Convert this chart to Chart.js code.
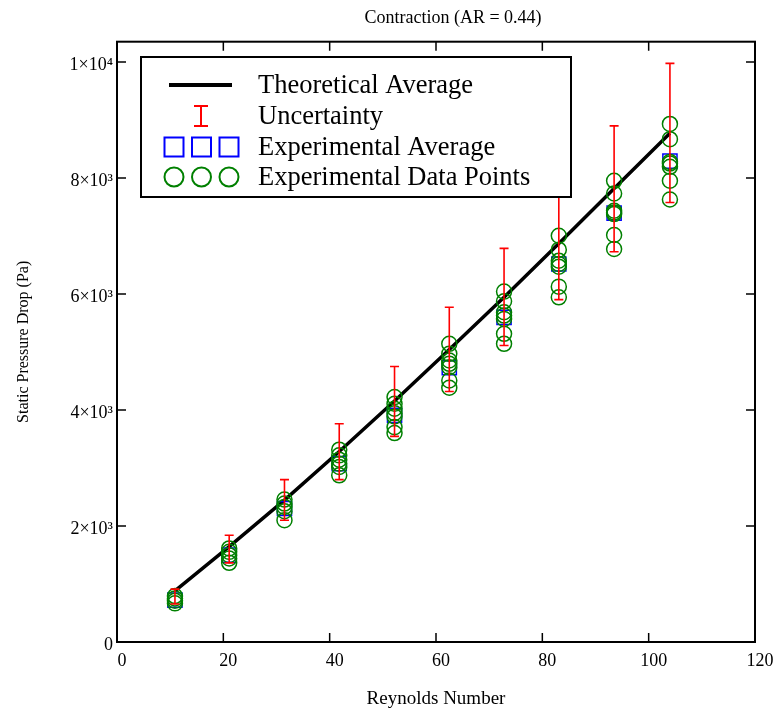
<!DOCTYPE html>
<html>
<head>
<meta charset="utf-8">
<script src="https://cdn.jsdelivr.net/npm/chart.js@4.4.0/dist/chart.umd.min.js"></script>
<style>
  html, body { margin: 0; padding: 0; background: #fff; }
</style>
</head>
<body>
<canvas id="chart" width="777" height="717"></canvas>
<script>
// Reynolds number of each test case
const reynolds = [10.9, 21.1, 31.5, 41.8, 52.2, 62.5, 72.8, 83.1, 93.5, 104.0];
// static pressure drop (Pa)
const theoretical = [880, 1644, 2447, 3284, 4154, 5043, 5943, 6869, 7820, 8772];
const uncertaintyLow = [654, 1365, 2100, 2800, 3545, 4320, 5111, 5903, 6729, 7578];
const uncertaintyHigh = [912, 1841, 2800, 3764, 4750, 5771, 6786, 7835, 8898, 9977];
const experimentalAverage = [723, 1497, 2301, 3075, 3907, 4728, 5598, 6517, 7395, 8290];
const experimentalPoints = [
    [792, 752, 711, 666],
    [1613, 1554, 1497, 1440, 1365],
    [2456, 2387, 2329, 2255, 2100],
    [3316, 3218, 3144, 3075, 3017, 2874],
    [4222, 4108, 4022, 3946, 3889, 3705, 3602],
    [5141, 4968, 4853, 4796, 4738, 4509, 4383],
    [6041, 5874, 5685, 5628, 5571, 5313, 5141],
    [7004, 6764, 6574, 6517, 6471, 6127, 5943],
    [7951, 7733, 7435, 7406, 7378, 7017, 6776],
    [8932, 8669, 8278, 8249, 8193, 7952, 7629]
];
const xTicks = [0, 20, 40, 60, 80, 100, 120];
const yTicks = [0, 2000, 4000, 6000, 8000, 10000];
const yTickLabels = ["0", "2×10³", "4×10³", "6×10³", "8×10³", "1×10⁴"];
const legendLabels = ["Theoretical Average", "Uncertainty", "Experimental Average", "Experimental Data Points"];
const chartTitle = "Contraction (AR = 0.44)";

const serif = "'Liberation Serif', 'Times New Roman', serif";
const RED = "#ff0000", BLUE = "#0000ff", GREEN = "#008000";

// flatten the scatter of raw points
let rawPoints = [];
experimentalPoints.forEach((col, i) => {
    col.forEach((v) => rawPoints.push({ x: reynolds[i], y: v }));
});

// red uncertainty bars, from the scales
const errorBars = {
    id: "errorBars",
    afterDatasetsDraw(chart) {
        const ctx = chart.ctx;
        const xs = chart.scales.x, ys = chart.scales.y;
        ctx.save();
        ctx.strokeStyle = RED;
        ctx.lineWidth = 1.6;
        reynolds.forEach((re, i) => {
            const x = xs.getPixelForValue(re);
            const lo = ys.getPixelForValue(uncertaintyLow[i]);
            const hi = ys.getPixelForValue(uncertaintyHigh[i]);
            ctx.beginPath();
            ctx.moveTo(x, lo); ctx.lineTo(x, hi);
            ctx.moveTo(x - 4.5, lo); ctx.lineTo(x + 4.5, lo);
            ctx.moveTo(x - 4.5, hi); ctx.lineTo(x + 4.5, hi);
            ctx.stroke();
        });
        ctx.restore();
    }
};

// box frame with inward ticks on every side, plus the title above it
const frame = {
    id: "frame",
    afterDraw(chart) {
        const ctx = chart.ctx;
        const a = chart.chartArea;
        const xs = chart.scales.x, ys = chart.scales.y;
        ctx.save();
        ctx.strokeStyle = "#000";
        ctx.lineWidth = 1.5;
        ctx.beginPath();
        xTicks.forEach((v) => {
            const x = xs.getPixelForValue(v);
            ctx.moveTo(x, a.bottom); ctx.lineTo(x, a.bottom - 9);
            ctx.moveTo(x, a.top); ctx.lineTo(x, a.top + 9);
        });
        yTicks.forEach((v) => {
            const y = ys.getPixelForValue(v);
            ctx.moveTo(a.left, y); ctx.lineTo(a.left + 9, y);
            ctx.moveTo(a.right, y); ctx.lineTo(a.right - 9, y);
        });
        ctx.stroke();
        ctx.lineWidth = 2;
        ctx.strokeRect(a.left, a.top, a.right - a.left, a.bottom - a.top);

        ctx.fillStyle = "#000";
        ctx.font = "18px " + serif;
        ctx.textAlign = "center";
        ctx.textBaseline = "middle";
        ctx.fillText(chartTitle, (a.left + a.right) / 2 + 17, 18);
        ctx.restore();
    }
};

// legend with multi-symbol samples
const legendBox = {
    id: "legendBox",
    afterDraw(chart) {
        const ctx = chart.ctx;
        const left = 141, top = 57, w = 430, h = 140;
        const rows = [85, 116, 147, 177];
        const sx = [174, 201.5, 229];
        ctx.save();
        ctx.fillStyle = "#fff";
        ctx.fillRect(left, top, w, h);
        ctx.strokeStyle = "#000";
        ctx.lineWidth = 2;
        ctx.strokeRect(left, top, w, h);

        ctx.lineWidth = 4;
        ctx.beginPath();
        ctx.moveTo(169, rows[0]); ctx.lineTo(232, rows[0]);
        ctx.stroke();

        ctx.strokeStyle = RED;
        ctx.lineWidth = 2;
        ctx.beginPath();
        ctx.moveTo(201, rows[1] - 10); ctx.lineTo(201, rows[1] + 10);
        ctx.moveTo(194, rows[1] - 10); ctx.lineTo(208, rows[1] - 10);
        ctx.moveTo(194, rows[1] + 10); ctx.lineTo(208, rows[1] + 10);
        ctx.stroke();

        ctx.strokeStyle = BLUE;
        sx.forEach((x) => ctx.strokeRect(x - 9.5, rows[2] - 9.5, 19, 19));

        ctx.strokeStyle = GREEN;
        sx.forEach((x) => {
            ctx.beginPath();
            ctx.arc(x, rows[3], 9.5, 0, Math.PI * 2);
            ctx.stroke();
        });

        ctx.fillStyle = "#000";
        ctx.font = "26.5px " + serif;
        ctx.textBaseline = "middle";
        legendLabels.forEach((t, i) => ctx.fillText(t, 258, rows[i] + 1));
        ctx.restore();
    }
};

new Chart(document.getElementById("chart"), {
    type: "scatter",
    data: {
        datasets: [
            {
                type: "line",
                label: legendLabels[0],
                data: reynolds.map((x, i) => ({ x: x, y: theoretical[i] })),
                borderColor: "#000",
                borderWidth: 3.5,
                pointRadius: 0,
                fill: false,
                tension: 0,
                order: 3
            },
            {
                label: legendLabels[2],
                data: reynolds.map((x, i) => ({ x: x, y: experimentalAverage[i] })),
                pointStyle: "rect",
                pointRadius: 10,
                borderColor: BLUE,
                backgroundColor: "rgba(0,0,0,0)",
                borderWidth: 1.5,
                order: 2
            },
            {
                label: legendLabels[3],
                data: rawPoints,
                pointStyle: "circle",
                pointRadius: 7.5,
                borderColor: GREEN,
                backgroundColor: "rgba(0,0,0,0)",
                borderWidth: 1.5,
                order: 1
            }
        ]
    },
    options: {
        responsive: false,
        animation: false,
        devicePixelRatio: 1,
        layout: { padding: { top: 41.7, right: 22 } },
        plugins: {
            legend: { display: false },
            tooltip: { enabled: false },
            title: { display: false }
        },
        scales: {
            x: {
                type: "linear",
                min: 0,
                max: 120,
                afterBuildTicks: (s) => { s.ticks = xTicks.map((v) => ({ value: v })); },
                afterFit: (s) => { s.height = 75; },
                grid: { display: false, drawTicks: false },
                border: { display: false },
                ticks: {
                    color: "#000",
                    font: { family: serif, size: 18 },
                    padding: 8,
                    labelOffset: 5,
                    maxRotation: 0
                },
                title: {
                    display: true,
                    text: "Reynolds Number",
                    color: "#000",
                    font: { family: serif, size: 19 },
                    padding: { top: 0, bottom: 7 }
                }
            },
            y: {
                type: "linear",
                min: 0,
                max: 10350,
                afterBuildTicks: (s) => { s.ticks = yTicks.map((v) => ({ value: v })); },
                afterFit: (s) => { s.width = 117; },
                grid: { display: false, drawTicks: false },
                border: { display: false },
                ticks: {
                    color: "#000",
                    font: { family: serif, size: 18 },
                    padding: 4,
                    labelOffset: 3,
                    callback: (v) => yTickLabels[yTicks.indexOf(v)]
                },
                title: {
                    display: true,
                    text: "Static Pressure Drop (Pa)",
                    color: "#000",
                    font: { family: serif, size: 16 },
                    padding: { top: 14, bottom: 0 }
                }
            }
        }
    },
    plugins: [errorBars, frame, legendBox]
});
</script>
</body>
</html>
